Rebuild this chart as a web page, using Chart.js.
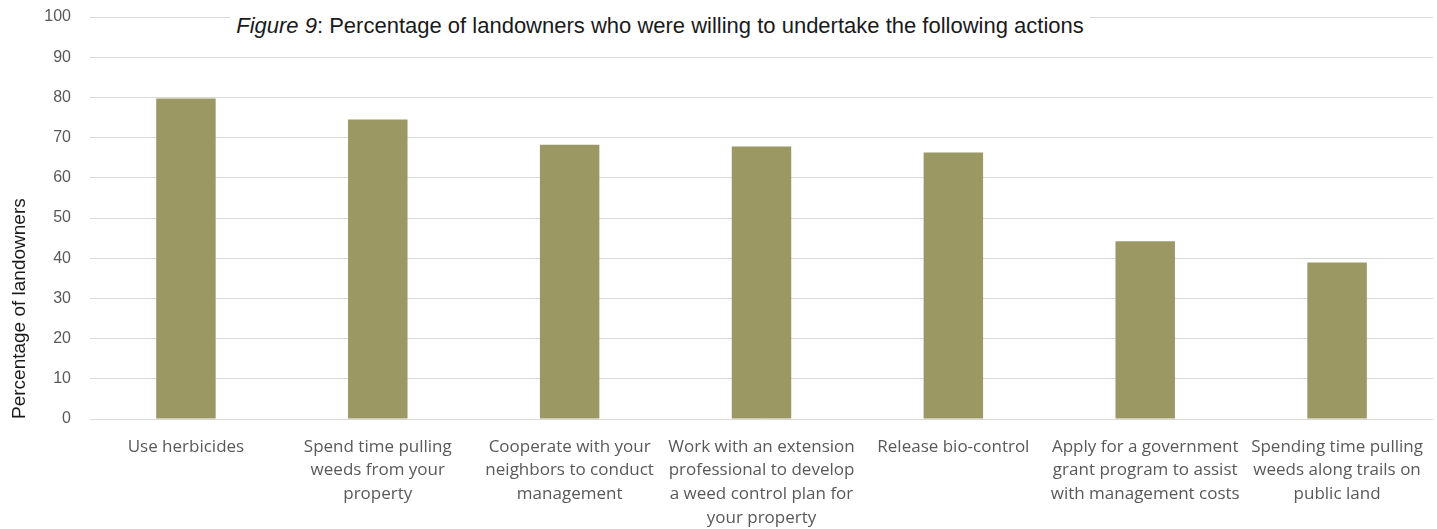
<!DOCTYPE html>
<html>
<head>
<meta charset="utf-8">
<script src="https://cdn.jsdelivr.net/npm/chart.js@4.4.1/dist/chart.umd.min.js"></script>
<style>
  html, body { margin: 0; padding: 0; background: #fff; }
  #wrap { position: relative; width: 1437px; height: 529px; }
  #figTitle {
    position: absolute; left: 230px; top: 9px; width: 860px; height: 34px;
    background: #fff; text-align: center;
    font-family: "Liberation Sans", Arial, sans-serif; font-size: 22px; color: #1a1a1a;
    line-height: 34px; white-space: nowrap;
  }
</style>
</head>
<body>
<div id="wrap">
  <canvas id="barChart" width="1437" height="529"></canvas>
  <div id="figTitle"><i>Figure 9</i>: Percentage of landowners who were willing to undertake the following actions</div>
</div>
<script>
const categories = [
  ["Use herbicides"],
  ["Spend time pulling", "weeds from your", "property"],
  ["Cooperate with your", "neighbors to conduct", "management"],
  ["Work with an extension", "professional to develop", "a weed control plan for", "your property"],
  ["Release bio-control"],
  ["Apply for a government", "grant program to assist", "with management costs"],
  ["Spending time pulling", "weeds along trails on", "public land"]
];
const percentWilling = [79.7, 74.5, 68.2, 67.8, 66.3, 44.2, 38.9];
const yTicks = { min: 0, max: 100, step: 10 };

const ctx = document.getElementById("barChart").getContext("2d");
const chart = new Chart(ctx, {
  type: 'bar',
  data: {
    labels: categories,
    datasets: [{
      data: percentWilling,
      backgroundColor: "#9b9863",
      borderWidth: 0,
      categoryPercentage: 1,
      barPercentage: 0.31
    }]
  },
  options: {
    responsive: false,
    animation: false,
    layout: { padding: { top: 17, right: 4, left: 0, bottom: 0 } },
    plugins: {
      legend: { display: false },
      tooltip: { enabled: false }
    },
    scales: {
      x: {
        grid: { display: false },
        border: { display: false },
        ticks: {
          color: '#595959',
          maxRotation: 0,
          autoSkip: false,
          padding: 8,
          font: { family: '"Open Sans", sans-serif', size: 17, lineHeight: 1.39 }
        },
        afterFit: (s) => { s.height = 110; }
      },
      y: {
        min: yTicks.min,
        max: yTicks.max,
        ticks: {
          stepSize: yTicks.step,
          color: '#595959',
          padding: 19,
          font: { family: '"Liberation Sans", Arial, sans-serif', size: 16 }
        },
        grid: { color: '#d9d9d9', lineWidth: 1, drawTicks: false },
        border: { display: false },
        title: {
          display: true,
          text: 'Percentage of landowners',
          align: 'start',
          color: '#1a1a1a',
          padding: { top: 8, bottom: 0 },
          font: { family: '"Liberation Sans", Arial, sans-serif', size: 19 }
        },
        afterFit: (s) => {
          s.width = 90;
          // keep the wide label gap from pushing the plot top down
          s.paddingTop = 0;
          s.paddingBottom = 0;
        }
      }
    }
  }
});
</script>
</body>
</html>
